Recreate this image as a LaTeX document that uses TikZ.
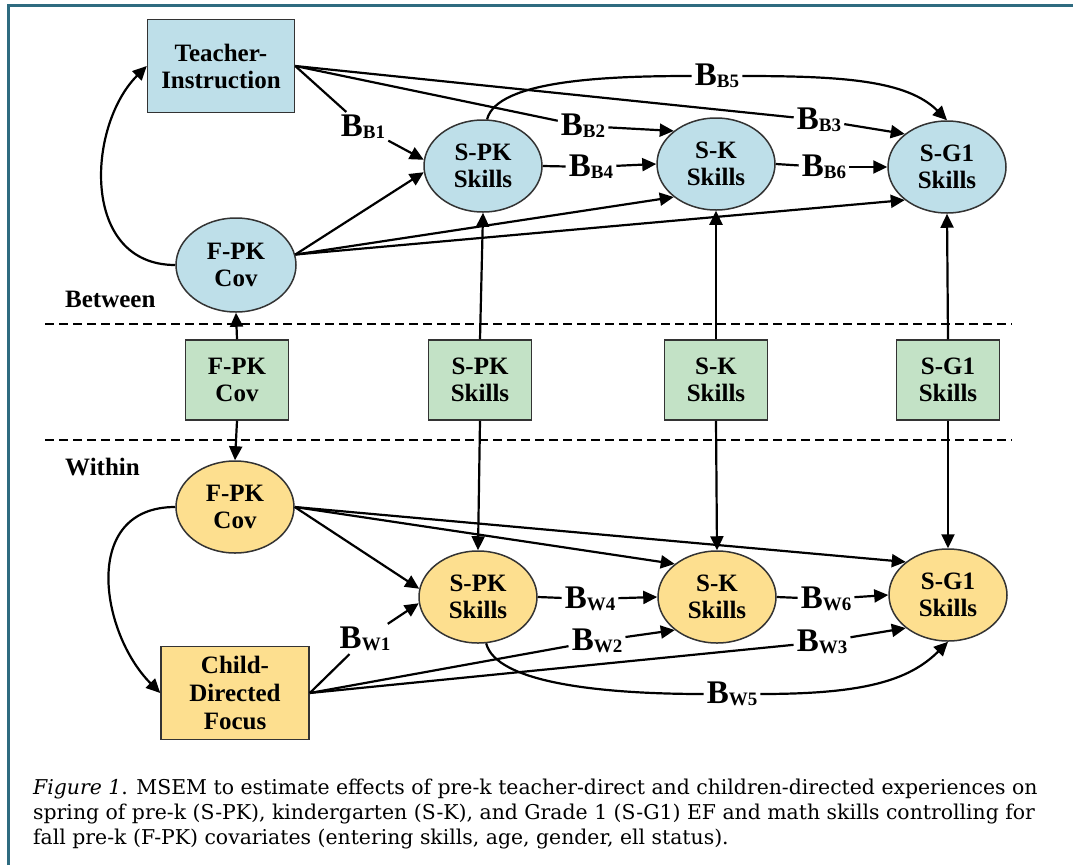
\documentclass[tikz,border=0pt]{standalone}
\usepackage{fontspec}
\setmainfont{Liberation Serif}
\newfontfamily\capfont{DejaVu Serif}
\usetikzlibrary{arrows.meta,shapes.geometric}
\definecolor{bfill}{HTML}{BEDFE9}
\definecolor{gfill}{HTML}{C3E2C6}
\definecolor{yfill}{HTML}{FDDF8F}
\definecolor{framec}{HTML}{2E6B80}
\definecolor{edgec}{HTML}{333333}
\newcommand{\Bsub}[1]{B\raisebox{-2pt}{\fontsize{19}{19}\selectfont #1}}
\tikzset{
  nodefont/.style={font=\fontsize{25}{27}\selectfont\bfseries},
  ell/.style={ellipse, draw=edgec, line width=1.5pt, minimum width=118pt, minimum height=92pt, inner sep=0pt, align=center, nodefont},
  rbox/.style={rectangle, draw=edgec, line width=1.5pt, inner sep=0pt, align=center, nodefont},
  gbox/.style={rbox, fill=gfill, minimum width=103pt, minimum height=80pt},
  conn/.style={line width=2.2pt, -{Triangle[length=14pt,width=13pt]}},
  plain/.style={line width=2.2pt},
  lbl/.style={font=\fontsize{33}{33}\selectfont\bfseries, inner sep=3pt},
  dashline/.style={line width=2.5pt, dash pattern=on 9pt off 5pt},
  frame/.style={line width=3pt, draw=framec}
}
\begin{document}
\begin{tikzpicture}[x=1pt,y=-1pt]
\useasboundingbox (0,0) rectangle (1073,865);
\fill[white] (0,0) rectangle (1073,865);
\draw[frame] (8,865) -- (8,5) -- (1073,5);

% dashed separators
\draw[dashline] (45,324) -- (1012,324);
\draw[dashline] (45,440) -- (1012,440);
\node[anchor=base west, nodefont, inner sep=0pt] (betw) at (65,307) {Between};
\node[anchor=base west, nodefont, inner sep=0pt] (with) at (65,475) {Within};

% between level
\node[rbox, fill=bfill, minimum width=147pt, minimum height=93pt] (teach) at (221,66) {Teacher-\\Instruction};
\node[ell, fill=bfill, minimum width=120pt, minimum height=94pt] (fpkB) at (236,265) {F-PK\\Cov};
\node[ell, fill=bfill] (spkB) at (483,166) {S-PK\\Skills};
\node[ell, fill=bfill] (skB) at (716,164) {S-K\\Skills};
\node[ell, fill=bfill] (sgB) at (947,167) {S-G1\\Skills};

% observed
\node[gbox] (gfpk) at (237,380) {F-PK\\Cov};
\node[gbox] (gspk) at (480,380) {S-PK\\Skills};
\node[gbox] (gsk) at (716,380) {S-K\\Skills};
\node[gbox] (gsg) at (948,380) {S-G1\\Skills};

% within level
\node[ell, fill=yfill] (fpkW) at (235,507) {F-PK\\Cov};
\node[rbox, fill=yfill, minimum width=148pt, minimum height=93pt, font=\fontsize{25}{28}\selectfont\bfseries] (child) at (235,693) {Child-\\Directed\\Focus};
\node[ell, fill=yfill] (spkW) at (478,597) {S-PK\\Skills};
\node[ell, fill=yfill] (skW) at (717,597) {S-K\\Skills};
\node[ell, fill=yfill] (sgW) at (948,595) {S-G1\\Skills};

% labels
\node[lbl] (lbb1) at (363,127) {\Bsub{B1}};
\node[lbl] (lbb2) at (583,126) {\Bsub{B2}};
\node[lbl] (lbb3) at (819,120) {\Bsub{B3}};
\node[lbl] (lbb4) at (591,167) {\Bsub{B4}};
\node[lbl] (lbb5) at (717,76) {\Bsub{B5}};
\node[lbl] (lbb6) at (824,167) {\Bsub{B6}};
\node[lbl] (lbw1) at (365,639) {\Bsub{W1}};
\node[lbl] (lbw2) at (597,641) {\Bsub{W2}};
\node[lbl] (lbw3) at (822,642) {\Bsub{W3}};
\node[lbl] (lbw4) at (590,599) {\Bsub{W4}};
\node[lbl] (lbw5) at (732,694) {\Bsub{W5}};
\node[lbl] (lbw6) at (826,599) {\Bsub{W6}};

% between connectors
\draw[conn] (fpkB.west) .. controls +(-95,0) and +(-60,60) .. (teach.west);
\draw[plain] (teach.east) -- (lbb1);
\draw[conn] (lbb1) -- (spkB.174);
\draw[plain] (teach.east) -- (lbb2);
\draw[conn] (lbb2) -- (skB.north west);
\draw[plain] (teach.east) -- (lbb3);
\draw[conn] (lbb3) -- (sgB.north west);
\draw[conn] (fpkB.10) -- (spkB.186);
\draw[conn] (fpkB.10) -- (skB.south west);
\draw[conn] (fpkB.10) -- (sgB.south west);
\draw[plain] (spkB.east) -- (lbb4);
\draw[conn] (lbb4) -- (skB.west);
\draw[plain] (skB.east) -- (lbb6);
\draw[conn] (lbb6) -- (sgB.west);
\draw[plain] (spkB.85) .. controls +(10,-40) and +(-80,0) .. (lbb5.west);
\draw[conn] (lbb5.east) .. controls +(100,0) and +(-40,-40) .. (sgB.north);

% vertical connectors
\draw[conn] (gfpk.north) -- (fpkB.south);
\draw[conn] (gfpk.south) -- (fpkW.north);
\draw[conn] (gspk.north) -- (spkB.south);
\draw[conn] (gspk.south) -- (spkW.north);
\draw[conn] (gsk.north) -- (skB.south);
\draw[conn] (gsk.south) -- (skW.north);
\draw[conn] (gsg.north) -- (sgB.south);
\draw[conn] (gsg.south) -- (sgW.north);

% within connectors
\draw[conn] (fpkW.west) .. controls +(-95,0) and +(-60,-60) .. (child.west);
\draw[conn] (fpkW.east) -- (spkW.172);
\draw[conn] (fpkW.east) -- (skW.north west);
\draw[conn] (fpkW.east) -- (sgW.north west);
\draw[plain] (child.east) -- (lbw1);
\draw[conn] (lbw1) -- (spkW.186);
\draw[plain] (child.east) -- (lbw2);
\draw[conn] (lbw2) -- (skW.south west);
\draw[plain] (child.east) -- (lbw3);
\draw[conn] (lbw3) -- (sgW.south west);
\draw[plain] (spkW.east) -- (lbw4);
\draw[conn] (lbw4) -- (skW.west);
\draw[plain] (skW.east) -- (lbw6);
\draw[conn] (lbw6) -- (sgW.west);
\draw[plain] (spkW.-80) .. controls +(10,40) and +(-100,0) .. (lbw5.west);
\draw[conn] (lbw5.east) .. controls +(100,0) and +(-40,40) .. (sgW.south);

% caption
\begin{scope}[every node/.style={anchor=base west, inner sep=0pt, font=\capfont\fontsize{20.4}{20.4}\selectfont}]
\node (cap1) at (33,794) {\textit{Figure 1}. MSEM to estimate effects of pre-k teacher-direct and children-directed experiences on};
\node (cap2) at (33,819) {spring of pre-k (S-PK), kindergarten (S-K), and Grade 1 (S-G1) EF and math skills controlling for};
\node (cap3) at (33,844) {fall pre-k (F-PK) covariates (entering skills, age, gender, ell status).};
\end{scope}
\end{tikzpicture}
\end{document}
